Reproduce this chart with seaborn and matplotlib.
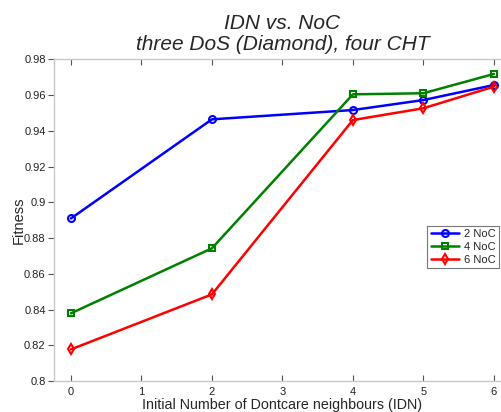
import matplotlib
matplotlib.use("Agg")
import matplotlib.pyplot as plt
import seaborn as sns
import pandas as pd

# Fitness vs. initial number of don't-care neighbours, per network-on-chip count
idn = [0, 2, 4, 5, 6]
fitness_2noc = [0.891, 0.9465, 0.9517, 0.9573, 0.9657]
fitness_4noc = [0.8379, 0.8743, 0.9605, 0.9611, 0.9719]
fitness_6noc = [0.8177, 0.8485, 0.9461, 0.9527, 0.9648]

series_names = ["2 NoC", "4 NoC", "6 NoC"]
series_values = [fitness_2noc, fitness_4noc, fitness_6noc]
series_colors = ["#0000ff", "#008000", "#ff0000"]
series_markers = ["o", "s", "d"]

x_ticks = [0, 1, 2, 3, 4, 5, 6]
y_ticks = [0.8, 0.82, 0.84, 0.86, 0.88, 0.9, 0.92, 0.94, 0.96, 0.98]
y_tick_labels = ["0.8", "0.82", "0.84", "0.86", "0.88", "0.9", "0.92", "0.94", "0.96", "0.98"]

sns.set_style("white")
plt.rcParams["font.family"] = ["Liberation Sans", "DejaVu Sans"]

fig = plt.figure(figsize=(5.01, 4.12), dpi=100)
ax = fig.add_axes([0.1078, 0.0752, 0.9118, 0.7804])

for name, vals, col, mk in zip(series_names, series_values, series_colors, series_markers):
    df = pd.DataFrame({"IDN": idn, "Fitness": vals})
    sns.lineplot(data=df, x="IDN", y="Fitness", ax=ax, color=col, marker=mk,
                 markersize=5, markerfacecolor="none", markeredgecolor=col,
                 markeredgewidth=1.5, linewidth=1.8, label=name)

ax.set_xlim(-0.24, 6.24)
ax.set_ylim(0.8, 0.98)
ax.set_xticks(x_ticks)
ax.set_xticklabels([str(t) for t in x_ticks])
ax.set_yticks(y_ticks)
ax.set_yticklabels(y_tick_labels)

for side in ["left", "bottom", "top", "right"]:
    ax.spines[side].set_color("#c8c8c8")
    ax.spines[side].set_linewidth(1.0)
    ax.spines[side].set_visible(True)

ax.tick_params(axis="x", which="both", direction="in", length=4, width=0.8,
               color="#555555", labelsize=8, labelcolor="#222222", top=True, bottom=True, pad=4)
ax.tick_params(axis="y", which="both", direction="out", length=4, width=0.8,
               color="#555555", labelsize=8, labelcolor="#222222", left=True, pad=2)

ax.set_xlabel("Initial Number of Dontcare neighbours (IDN)", fontsize=10.3, labelpad=1)
ax.set_ylabel("Fitness", fontsize=10.5, labelpad=-1)
ax.set_title("IDN vs. NoC\nthree DoS (Diamond), four CHT", fontsize=15,
             style="italic", pad=7, linespacing=1.15)

leg = ax.legend(loc="upper right", bbox_to_anchor=(499 / 501, 1 - 226 / 412),
                bbox_transform=fig.transFigure, fontsize=8, frameon=True,
                fancybox=False, handlelength=2.6, handletextpad=0.4,
                borderpad=0.3, labelspacing=0.25, borderaxespad=0)
leg.get_frame().set_edgecolor("#555555")
leg.get_frame().set_linewidth(0.8)

fig.savefig("out.png", dpi=100)
